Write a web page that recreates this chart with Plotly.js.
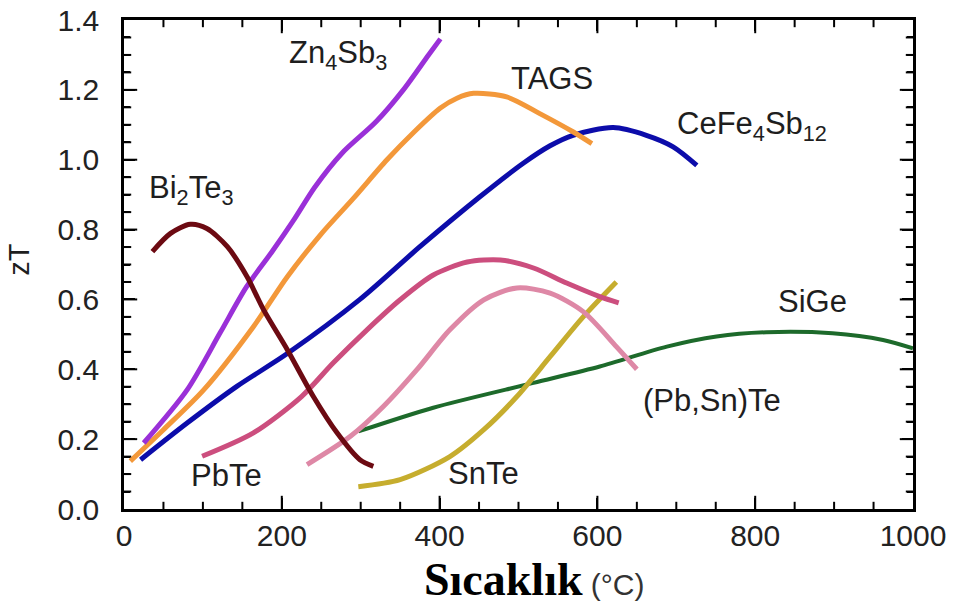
<!DOCTYPE html>
<html>
<head>
<meta charset="utf-8">
<script src="https://cdn.plot.ly/plotly-3.0.1.min.js"></script>
<style>html,body{margin:0;padding:0;background:#fff;}#chart{width:958px;height:605px;}</style>
</head>
<body>
<div id="chart"></div>
<script>
// ---- data ----
const bi2te3_T  = [36, 59, 84, 105, 131, 156, 177, 207, 240, 270, 299, 316];
const bi2te3_zT = [0.737, 0.789, 0.815, 0.803, 0.751, 0.665, 0.57, 0.456, 0.322, 0.218, 0.141, 0.122];

const zn4sb3_T  = [25, 80, 122, 155, 188, 215, 242, 276, 320, 354, 386, 401];
const zn4sb3_zT = [0.189, 0.341, 0.505, 0.635, 0.738, 0.827, 0.922, 1.018, 1.11, 1.2, 1.3, 1.346];

const tags_T  = [8, 50, 101, 164, 207, 249, 291, 333, 367, 401, 422, 443, 485, 527, 569, 593];
const tags_zT = [0.137, 0.227, 0.341, 0.522, 0.665, 0.785, 0.89, 0.999, 1.078, 1.148, 1.176, 1.19, 1.18, 1.132, 1.08, 1.046];

const cefe_T  = [21, 80, 143, 207, 299, 375, 451, 506, 540, 569, 620, 662, 696, 726];
const cefe_zT = [0.141, 0.246, 0.351, 0.445, 0.60, 0.751, 0.894, 0.99, 1.04, 1.07, 1.092, 1.07, 1.037, 0.984];

const pbte_T  = [99, 164, 225, 265, 308, 350, 392, 435, 477, 519, 561, 603, 627];
const pbte_zT = [0.151, 0.218, 0.322, 0.418, 0.513, 0.599, 0.670, 0.707, 0.713, 0.69, 0.647, 0.608, 0.59];

const pbsnte_T  = [232, 287, 329, 371, 413, 456, 498, 540, 582, 624, 650];
const pbsnte_zT = [0.127, 0.208, 0.294, 0.398, 0.513, 0.599, 0.633, 0.618, 0.565, 0.465, 0.40];

const snte_T  = [297, 350, 413, 456, 498, 540, 582, 624];
const snte_zT = [0.064, 0.084, 0.15, 0.227, 0.322, 0.436, 0.55, 0.65];

const sige_T  = [297, 392, 519, 603, 688, 751, 814, 898, 962, 1000];
const sige_zT = [0.222, 0.29, 0.361, 0.408, 0.465, 0.494, 0.506, 0.503, 0.484, 0.46];

const xTicks = [0, 200, 400, 600, 800, 1000];
const yTicks = [0.0, 0.2, 0.4, 0.6, 0.8, 1.0, 1.2, 1.4];
const xRange = [0, 1000];
const yRange = [0, 1.4];
const xMinorStep = 50;
const yMinorStep = 0.05;

const labelTexts = ['Zn<sub>4</sub>Sb<sub>3</sub>', 'TAGS', 'CeFe<sub>4</sub>Sb<sub>12</sub>', 'Bi<sub>2</sub>Te<sub>3</sub>', 'PbTe', 'SnTe', '(Pb,Sn)Te', 'SiGe'];
const labelX = [207, 543, 698, 29, 130, 455, 745, 873];
const labelY = [1.30, 1.233, 1.097, 0.913, 0.096, 0.101, 0.31, 0.594];

const W = 958, H = 605, M = {l: 124, r: 45, t: 20, b: 96};
const plotW = W - M.l - M.r, plotH = H - M.t - M.b;

// ---- traces ----
function line(x, y, color, w) {
  return {x: x, y: y, type: 'scatter', mode: 'lines',
          line: {color: color, width: w, shape: 'spline', smoothing: 0.8}, hoverinfo: 'skip'};
}
const traces = [
  line(sige_T, sige_zT, '#1d6a2b', 4),
  line(snte_T, snte_zT, '#c6ad2e', 5),
  line(pbsnte_T, pbsnte_zT, '#de88a6', 5),
  line(pbte_T, pbte_zT, '#cc4e7e', 5),
  line(cefe_T, cefe_zT, '#0c0caa', 5),
  line(tags_T, tags_zT, '#f3983a', 5),
  line(zn4sb3_T, zn4sb3_zT, '#9a30d8', 5),
  line(bi2te3_T, bi2te3_zT, '#6c0a12', 5)
];

// ---- inside tick marks on all four sides, drawn as line markers through the axes ----
function tickMarks(lenPx, isMajor) {
  const dy = lenPx / 2 / plotH * (yRange[1] - yRange[0]);
  const dx = lenPx / 2 / plotW * (xRange[1] - xRange[0]);
  const xs = [], ys = [], xv = [], yv = [];
  const xvals = [], yvals = [];
  for (let v = xRange[0] + xMinorStep; v < xRange[1]; v += xMinorStep) {
    const major = xTicks.indexOf(v) >= 0;
    if (major === isMajor) xvals.push(v);
  }
  for (let k = 1; k < Math.round((yRange[1] - yRange[0]) / yMinorStep); k++) {
    const v = +(k * yMinorStep).toFixed(2);
    const major = yTicks.some(t => Math.abs(t - v) < 1e-6);
    if (major === isMajor) yvals.push(v);
  }
  xvals.forEach(v => { xs.push(v, v); ys.push(yRange[0] + dy, yRange[1] - dy); });
  yvals.forEach(v => { yv.push(v, v); xv.push(xRange[0] + dx, xRange[1] - dx); });
  return [
    {x: xs, y: ys, type: 'scatter', mode: 'markers', hoverinfo: 'skip', cliponaxis: false,
     marker: {symbol: 'line-ns', size: lenPx, color: '#000', line: {color: '#000', width: 2}}},
    {x: xv, y: yv, type: 'scatter', mode: 'markers', hoverinfo: 'skip', cliponaxis: false,
     marker: {symbol: 'line-ew', size: lenPx, color: '#000', line: {color: '#000', width: 2}}}
  ];
}
traces.push(...tickMarks(11, true), ...tickMarks(6, false));

const sans = 'Liberation Sans, Arial, sans-serif';
const annotations = labelTexts.map((t, i) => ({
  x: labelX[i], y: labelY[i], xref: 'x', yref: 'y', text: t, showarrow: false,
  xanchor: (i === 0 || i === 2 || i === 3) ? 'left' : 'center', yanchor: 'middle',
  font: {family: sans, size: 31, color: '#1e1e1e'}
}));
annotations.push({
  xref: 'paper', yref: 'paper', x: 0.52, y: -0.145, xanchor: 'center', yanchor: 'middle',
  showarrow: false,
  text: '<span style="font-family:Liberation Serif, Times New Roman, serif;font-weight:bold;font-size:46px;fill:#000">Sıcaklık</span> <span style="font-size:30px">(°C)</span>',
  font: {family: sans, size: 30, color: '#333'}
});
annotations.push({
  xref: 'paper', yref: 'paper', x: -0.133, y: 0.51, xanchor: 'center', yanchor: 'middle',
  showarrow: false, textangle: -90, text: 'zT',
  font: {family: sans, size: 29, color: '#1e1e1e'}
});

const axisCommon = {
  showgrid: false, zeroline: false, showline: true, linecolor: '#000', linewidth: 2.5,
  mirror: 'ticks', ticks: 'inside', ticklen: 11, tickwidth: 2, tickcolor: '#000',
  tickfont: {family: sans, size: 30, color: '#222'}
};

const layout = {
  width: W, height: H,
  margin: M,
  paper_bgcolor: '#fff', plot_bgcolor: '#fff',
  showlegend: false,
  xaxis: Object.assign({}, axisCommon, {
    range: xRange, tickvals: xTicks, ticktext: xTicks.map(String),
    ticklabelstandoff: -2
  }),
  yaxis: Object.assign({}, axisCommon, {
    range: yRange, tickvals: yTicks, ticktext: yTicks.map(v => v.toFixed(1)),
    minor: {dtick: yMinorStep, tick0: 0, ticks: 'inside', ticklen: 6, tickwidth: 2, tickcolor: '#000'},
    ticklabelstandoff: 16
  }),
  annotations: annotations
};

Plotly.newPlot('chart', traces, layout, {displayModeBar: false});
</script>
</body>
</html>
